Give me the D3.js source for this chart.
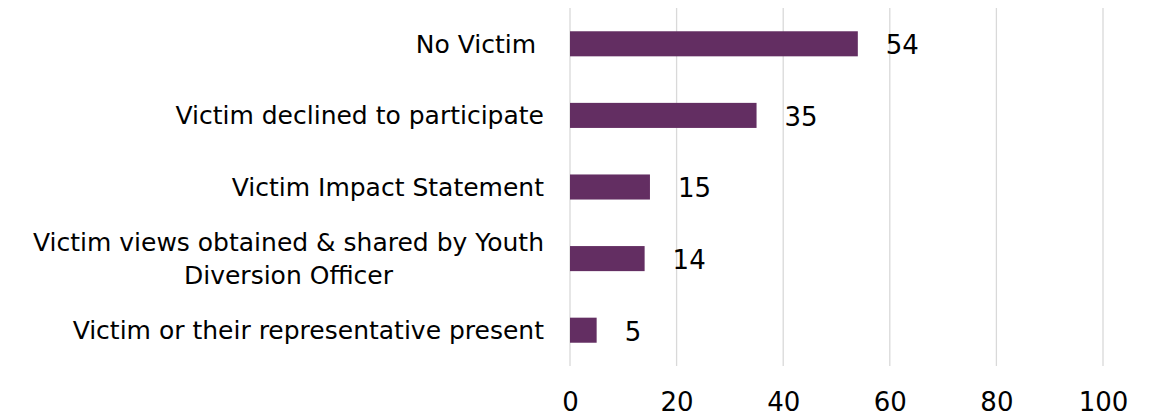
<!DOCTYPE html>
<html>
<head>
<meta charset="utf-8">
<script src="https://cdn.jsdelivr.net/npm/d3@7"></script>
<style>
  body { margin: 0; background: #fff; }
  svg { display: block; font-family: "DejaVu Sans", sans-serif; }
  .cat { white-space: pre; }
</style>
</head>
<body>
<svg id="chart" width="1157" height="416"></svg>
<script>
// categories top to bottom, each entry is the lines of its label
const categories = [
  ['No Victim '],
  ['Victim declined to participate'],
  ['Victim Impact Statement'],
  ['Victim views obtained & shared by Youth', 'Diversion Officer'],
  ['Victim or their representative present']
];
const values = [54, 35, 15, 14, 5];
const ticks = [0, 20, 40, 60, 80, 100];

const svg = d3.select('#chart');
const plotLeft = 570, plotRight = 1103, plotTop = 8, plotBottom = 366;

const x = d3.scaleLinear().domain([0, 100]).range([plotLeft, plotRight]);
const y = d3.scaleBand().domain(d3.range(categories.length)).range([plotTop, plotBottom]).paddingInner(0.65).paddingOuter(0.325);

// vertical gridlines
svg.append('g').selectAll('line').data(ticks).join('line')
  .attr('x1', d => x(d)).attr('x2', d => x(d))
  .attr('y1', plotTop).attr('y2', plotBottom)
  .attr('stroke', '#d9d9d9').attr('stroke-width', 1.3);

// bars
svg.append('g').selectAll('rect').data(values).join('rect')
  .attr('x', x(0))
  .attr('y', (d, i) => y(i))
  .attr('width', d => x(d) - x(0))
  .attr('height', y.bandwidth())
  .attr('fill', '#632e62');

// value labels
svg.append('g').selectAll('text').data(values).join('text')
  .attr('x', d => x(d) + 28)
  .attr('y', (d, i) => y(i) + y.bandwidth() / 2 + 1)
  .attr('dy', '0.36em')
  .attr('font-size', 26)
  .attr('fill', '#000')
  .text(d => d);

// category labels
const cat = svg.append('g').selectAll('text').data(categories).join('text')
  .attr('class', 'cat')
  .attr('font-size', 25)
  .attr('fill', '#000')
  .attr('text-anchor', 'end');
cat.each(function(lines, i) {
  const t = d3.select(this);
  const cy = y(i) + y.bandwidth() / 2;
  const lh = 33;
  lines.forEach((ln, k) => {
    t.append('tspan')
      .attr('x', 544)
      .attr('y', cy + (k - (lines.length - 1) / 2) * lh)
      .attr('dy', '0.36em')
      .text(ln);
  });
});
// second line of a wrapped label is centred under the first
cat.filter(d => d.length > 1).each(function() {
  const spans = d3.select(this).selectAll('tspan').nodes();
  const w0 = spans[0].getComputedTextLength();
  d3.select(this).attr('text-anchor', 'middle');
  spans.forEach(s => d3.select(s).attr('x', 544 - w0 / 2));
});

// x axis
const xAxis = d3.axisBottom(x).tickValues(ticks).tickSize(0).tickPadding(0);
const ax = svg.append('g').attr('transform', `translate(0,402)`).call(xAxis);
ax.select('.domain').remove();
ax.selectAll('text').attr('font-size', 26).attr('font-family', '"DejaVu Sans", sans-serif').attr('fill', '#000').attr('dy', '0.36em');
</script>
</body>
</html>
